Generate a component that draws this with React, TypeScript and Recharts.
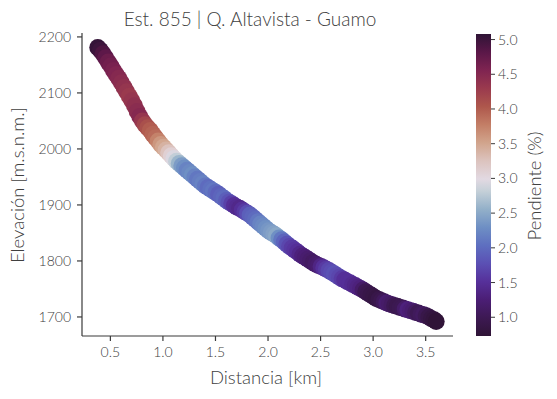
import { ScatterChart, Scatter, XAxis, YAxis } from 'recharts'

// Perfil longitudinal: distancia (km), elevación (m.s.n.m.) y pendiente (%)
const DIST_KM = [
  0.38, 0.405, 0.43, 0.455, 0.48, 0.505, 0.53, 0.555, 0.58, 0.605,
  0.63, 0.655, 0.68, 0.705, 0.73, 0.755, 0.78, 0.805, 0.83, 0.855,
  0.88, 0.905, 0.93, 0.955, 0.98, 1.005, 1.03, 1.055, 1.08, 1.105,
  1.13, 1.155, 1.18, 1.205, 1.23, 1.255, 1.28, 1.305, 1.33, 1.355,
  1.38, 1.405, 1.43, 1.455, 1.48, 1.505, 1.53, 1.555, 1.58, 1.605,
  1.63, 1.655, 1.68, 1.705, 1.73, 1.755, 1.78, 1.805, 1.83, 1.855,
  1.88, 1.905, 1.93, 1.955, 1.98, 2.005, 2.03, 2.055, 2.08, 2.105,
  2.13, 2.155, 2.18, 2.205, 2.23, 2.255, 2.28, 2.305, 2.33, 2.355,
  2.38, 2.405, 2.43, 2.455, 2.48, 2.505, 2.53, 2.555, 2.58, 2.605,
  2.63, 2.655, 2.68, 2.705, 2.73, 2.755, 2.78, 2.805, 2.83, 2.855,
  2.88, 2.905, 2.93, 2.955, 2.98, 3.005, 3.03, 3.055, 3.08, 3.105,
  3.13, 3.155, 3.18, 3.205, 3.23, 3.255, 3.28, 3.305, 3.33, 3.355,
  3.38, 3.405, 3.43, 3.455, 3.48, 3.505, 3.53, 3.555, 3.58, 3.6,
]
const ELEV_M = [
  2181, 2176, 2170, 2163, 2155, 2148, 2140, 2133, 2126, 2118,
  2110, 2102, 2094, 2086, 2077, 2067, 2058, 2050, 2043, 2038,
  2033, 2026, 2020, 2014, 2008, 2003, 1998, 1993, 1988, 1983,
  1978, 1974, 1970, 1966, 1962, 1958, 1954, 1950, 1946, 1942,
  1938, 1934, 1931, 1928, 1925, 1922, 1919, 1915, 1912, 1908,
  1905, 1902, 1899, 1896, 1894, 1891, 1888, 1885, 1882, 1878,
  1874, 1870, 1866, 1862, 1858, 1854, 1851, 1848, 1845, 1841,
  1838, 1834, 1830, 1826, 1823, 1819, 1816, 1812, 1809, 1806,
  1803, 1800, 1797, 1794, 1792, 1790, 1788, 1785, 1783, 1780,
  1777, 1774, 1771, 1768, 1766, 1763, 1761, 1758, 1756, 1753,
  1751, 1748, 1745, 1742, 1739, 1736, 1733, 1731, 1729, 1727,
  1725, 1723, 1722, 1720, 1719, 1717, 1716, 1714, 1713, 1711,
  1710, 1708, 1707, 1705, 1704, 1702, 1700, 1697, 1695, 1692,
]
const SLOPE_PCT = [
  5.05, 5.0, 4.9, 4.8, 4.7, 4.65, 4.6, 4.55, 4.5, 4.45,
  4.4, 4.35, 4.3, 4.35, 4.4, 4.45, 4.5, 4.35, 4.2, 4.1,
  4.0, 3.95, 3.9, 3.75, 3.6, 3.5, 3.4, 3.25, 3.1, 2.95,
  2.8, 2.6, 2.4, 2.3, 2.2, 2.25, 2.3, 2.2, 2.1, 2.15,
  2.2, 2.1, 2.0, 2.05, 2.1, 2.0, 1.9, 1.95, 2.0, 1.9,
  1.8, 1.65, 1.5, 1.45, 1.4, 1.5, 1.6, 1.75, 1.9, 1.95,
  2.0, 2.1, 2.2, 2.25, 2.3, 2.35, 2.4, 2.45, 2.5, 2.3,
  2.1, 1.95, 1.8, 1.7, 1.6, 1.55, 1.5, 1.4, 1.3, 1.25,
  1.2, 1.15, 1.1, 1.15, 1.2, 1.35, 1.5, 1.6, 1.7, 1.75,
  1.8, 1.75, 1.7, 1.6, 1.5, 1.5, 1.5, 1.45, 1.4, 1.35,
  1.3, 1.15, 1.0, 0.95, 0.9, 0.87, 0.85, 0.9, 0.95, 1.05,
  1.2, 1.15, 1.1, 1.0, 0.95, 0.97, 1.0, 1.15, 1.3, 1.25,
  1.2, 1.1, 1.0, 1.05, 1.1, 1.0, 0.9, 0.85, 0.8, 0.75,
]

const X_TICKS = [0.5, 1.0, 1.5, 2.0, 2.5, 3.0, 3.5]
const Y_TICKS = [1700, 1800, 1900, 2000, 2100, 2200]
const CBAR_TICKS = [1.0, 1.5, 2.0, 2.5, 3.0, 3.5, 4.0, 4.5, 5.0]

const C_MIN = 0.73
const C_MAX = 5.08

// aproximación del colormap twilight_shifted
const CMAP: [number, string][] = [
  [0.0, '#2f1436'],
  [0.06, '#3d1953'],
  [0.12, '#4b1e75'],
  [0.18, '#56309a'],
  [0.24, '#5b50b4'],
  [0.3, '#5e6fc0'],
  [0.36, '#6e8fc4'],
  [0.42, '#93b0c9'],
  [0.48, '#c5d0d8'],
  [0.52, '#e2d9e2'],
  [0.58, '#dcc3be'],
  [0.64, '#d1a48c'],
  [0.7, '#c37e66'],
  [0.76, '#ae574c'],
  [0.82, '#9a3a4e'],
  [0.88, '#7f2451'],
  [0.94, '#5a1748'],
  [1.0, '#2f1436'],
]

const hex = (h: string) => [1, 3, 5].map((i) => parseInt(h.slice(i, i + 2), 16))

function colorFor(v: number) {
  const t = Math.min(1, Math.max(0, (v - C_MIN) / (C_MAX - C_MIN)))
  for (let i = 1; i < CMAP.length; i++) {
    const [t1, c1] = CMAP[i]
    const [t0, c0] = CMAP[i - 1]
    if (t <= t1) {
      const f = (t - t0) / (t1 - t0)
      const a = hex(c0)
      const b = hex(c1)
      const rgb = a.map((x, k) => Math.round(x + (b[k] - x) * f))
      return `rgb(${rgb.join(',')})`
    }
  }
  return CMAP[CMAP.length - 1][1]
}

const data = DIST_KM.map((d, i) => ({ dist: d, elev: ELEV_M[i], slope: SLOPE_PCT[i] }))

const FONT = 'Lato, "Open Sans", sans-serif'
const TEXT = '#404040'
const AXIS = '#3a3a3a'

// colorbar geometry
const CB = { x: 476, y: 34, w: 15, h: 302 }
const cbY = (v: number) => CB.y + CB.h - ((v - C_MIN) / (C_MAX - C_MIN)) * CB.h

export default function App() {
  return (
    <div style={{ position: 'absolute', left: 0, top: 0, width: 557, height: 399, background: '#fff', fontFamily: FONT }}>
      <ScatterChart width={557} height={399} margin={{ top: 33, right: 104, bottom: 23, left: 22 }}>
        <XAxis
          type="number"
          dataKey="dist"
          domain={[0.23, 3.76]}
          ticks={X_TICKS}
          tickFormatter={(v: number) => v.toFixed(1)}
          allowDataOverflow
          height={40}
          tickSize={5}
          tickMargin={6}
          stroke={AXIS}
          strokeWidth={1.2}
          tick={{ fill: TEXT, fontSize: 14, fontFamily: FONT, fontWeight: 300 }}
        />
        <YAxis
          type="number"
          dataKey="elev"
          domain={[1666, 2207]}
          ticks={Y_TICKS}
          allowDataOverflow
          width={60}
          tickSize={5}
          tickMargin={6}
          stroke={AXIS}
          strokeWidth={1.2}
          tick={{ fill: TEXT, fontSize: 14, fontFamily: FONT, fontWeight: 300 }}
        />
        <Scatter
          data={data}
          isAnimationActive={false}
          shape={(p: any) => <circle cx={p.cx} cy={p.cy} r={8.5} fill={colorFor(p.payload.slope)} />}
        />
      </ScatterChart>

      <svg width={557} height={399} style={{ position: 'absolute', left: 0, top: 0, pointerEvents: 'none' }}>
        <defs>
          <linearGradient id="cbar" x1="0" y1="1" x2="0" y2="0">
            {CMAP.map(([t, c]) => (
              <stop key={t} offset={t} stopColor={c} />
            ))}
          </linearGradient>
        </defs>
        <g fill={TEXT} fontFamily={FONT} fontWeight={300}>
          <text x={250} y={26} textAnchor="middle" fontSize={19}>
            Est. 855 | Q. Altavista - Guamo
          </text>
          <text x={266} y={384} textAnchor="middle" fontSize={18.5}>
            Distancia [km]
          </text>
          <text transform="translate(24,185) rotate(-90)" textAnchor="middle" fontSize={18.5}>
            Elevación [m.s.n.m.]
          </text>

          {/* Colorbar */}
          <rect x={CB.x} y={CB.y} width={CB.w} height={CB.h} fill="url(#cbar)" />
          {CBAR_TICKS.map((v) => (
            <g key={v}>
              <line x1={CB.x + CB.w} x2={CB.x + CB.w + 4} y1={cbY(v)} y2={cbY(v)} stroke={AXIS} strokeWidth={1} />
              <text x={CB.x + CB.w + 7} y={cbY(v) + 5} fontSize={14}>
                {v.toFixed(1)}
              </text>
            </g>
          ))}
          <text transform="translate(541,186) rotate(-90)" textAnchor="middle" fontSize={18.5}>
            Pendiente (%)
          </text>
        </g>
      </svg>
    </div>
  )
}
